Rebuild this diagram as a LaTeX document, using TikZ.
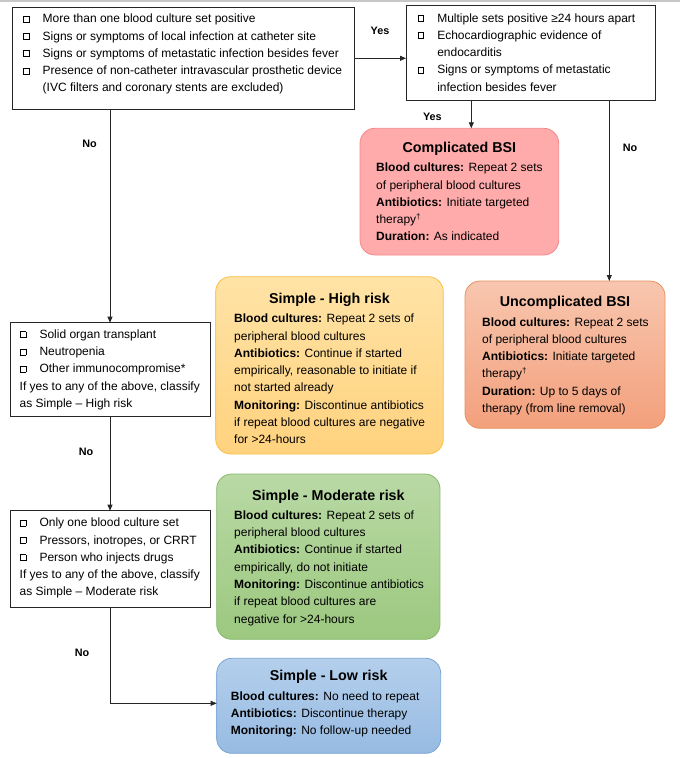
\documentclass[tikz,border=0pt]{standalone}
\usepackage{fontspec}
\setmainfont{Liberation Sans}
\usetikzlibrary{arrows.meta}
\newcommand\cbx{\raisebox{1pt}{\setlength\fboxsep{0pt}\setlength\fboxrule{0.75pt}\fbox{\rule{0pt}{5.2pt}\rule{5.2pt}{0pt}}}}
\newcommand\ck[1]{\makebox[19.8pt][l]{\cbx}#1}
\newcommand\ind[1]{\hspace*{19.8pt}#1}
\newcommand\bodyfont{\fontsize{12}{17.3}\selectfont}
\newcommand\bx[1]{\parbox[t]{420pt}{\raggedright #1}}
\definecolor{compF}{HTML}{FFABAB}
\definecolor{compD}{HTML}{F4878A}
\definecolor{uncT}{HTML}{F8C6AF}
\definecolor{uncB}{HTML}{F3A07C}
\definecolor{uncD}{HTML}{E8915F}
\definecolor{hiT}{HTML}{FFE3A6}
\definecolor{hiB}{HTML}{FFD27E}
\definecolor{hiD}{HTML}{F9C046}
\definecolor{moT}{HTML}{B9D9A5}
\definecolor{moB}{HTML}{9CC87F}
\definecolor{moD}{HTML}{88B86A}
\definecolor{loT}{HTML}{B4CFEC}
\definecolor{loB}{HTML}{97BBE2}
\definecolor{loD}{HTML}{7AA5D6}
\tikzset{
  qbox/.style={draw=black!85, line width=0.8pt, fill=white, inner sep=0pt, outer sep=0pt},
  rbox/.style={line width=0.8pt, rounded corners=15pt, inner sep=0pt, outer sep=0pt},
  ttl/.style={font=\fontsize{14.3}{17}\selectfont\bfseries, inner sep=0pt, anchor=base},
  txt/.style={inner sep=0pt, anchor=base west, font=\bodyfont},
  lbl/.style={font=\fontsize{10.8}{13}\selectfont\bfseries, inner sep=0pt, anchor=base},
  arr/.style={draw=black!85, line width=0.8pt, -{Triangle[length=6pt,width=5pt]}},
  ln/.style={draw=black!85, line width=0.8pt},
}
\begin{document}
\begin{tikzpicture}[x=1pt,y=-1pt]
\useasboundingbox (0,0) rectangle (680,758);
\draw[black!22, line width=1.5pt] (0,0.75) -- (680,0.75);

% question boxes
\node[qbox, minimum width=342pt, minimum height=102pt] (b1) at (183,58.3) {};
\node[qbox, minimum width=249.3pt, minimum height=94.3pt] (b2) at (530.65,52.85) {};
\node[qbox, minimum width=200pt, minimum height=94pt] (b3) at (110,369.7) {};
\node[qbox, minimum width=200pt, minimum height=97pt] (b4) at (110,559.2) {};

\node[txt] (b1t) at (22.7,22.7) {\bx{\ck{More than one blood culture set positive}\\
\ck{Signs or symptoms of local infection at catheter site}\\
\ck{Signs or symptoms of metastatic infection besides fever}\\
\ck{Presence of non-catheter intravascular prosthetic device}\\
\ind{(IVC filters and coronary stents are excluded)}}};

\node[txt] (b2t) at (417.3,22) {\bx{\ck{Multiple sets positive ≥24 hours apart}\\
\ck{Echocardiographic evidence of}\\
\ind{endocarditis}\\
\ck{Signs or symptoms of metastatic}\\
\ind{infection besides fever}}};

\node[txt] (b3t) at (19.5,338.3) {\bx{\ck{Solid organ transplant}\\
\ck{Neutropenia}\\
\ck{Other immunocompromise*}\\
If yes to any of the above, classify\\
as Simple – High risk}};

\node[txt] (b4t) at (19.5,526.7) {\bx{\ck{Only one blood culture set}\\
\ck{Pressors, inotropes, or CRRT}\\
\ck{Person who injects drugs}\\
If yes to any of the above, classify\\
as Simple – Moderate risk}};

% outcome boxes
\node[rbox, draw=compD, fill=compF, minimum width=198.7pt, minimum height=126.7pt] (comp) at (459.35,191.65) {};
\node[rbox, draw=uncD, top color=uncT, bottom color=uncB, minimum width=200pt, minimum height=147.3pt] (unc) at (565,354.65) {};
\node[rbox, draw=hiD, top color=hiT, bottom color=hiB, minimum width=227.6pt, minimum height=177.3pt] (hi) at (329.5,365.35) {};
\node[rbox, draw=moD, top color=moT, bottom color=moB, minimum width=223.3pt, minimum height=165.3pt] (mo) at (328.35,556.65) {};
\node[rbox, draw=loD, top color=loT, bottom color=loB, minimum width=224pt, minimum height=95pt] (lo) at (328.7,705.8) {};

\node[ttl] (compT) at (459.35,152.7) {Complicated BSI};
\node[txt] (compB) at (376,171.7) {\bx{\textbf{Blood cultures:} Repeat 2 sets\\
of peripheral blood cultures\\
\textbf{Antibiotics:} Initiate targeted\\
therapy\textsuperscript{†}\\
\textbf{Duration:} As indicated}};

\node[ttl] (uncT) at (565,306.7) {Uncomplicated BSI};
\node[txt] (uncB) at (482,326) {\bx{\textbf{Blood cultures:} Repeat 2 sets\\
of peripheral blood cultures\\
\textbf{Antibiotics:} Initiate targeted\\
therapy\textsuperscript{†}\\
\textbf{Duration:} Up to 5 days of\\
therapy (from line removal)}};

\node[ttl] (hiT) at (329.5,303.3) {Simple - High risk};
\node[txt] (hiB) at (234,322.7) {\bx{\textbf{Blood cultures:} Repeat 2 sets of\\
peripheral blood cultures\\
\textbf{Antibiotics:} Continue if started\\
empirically, reasonable to initiate if\\
not started already\\
\textbf{Monitoring:} Discontinue antibiotics\\
if repeat blood cultures are negative\\
for >24-hours}};

\node[ttl] (moT) at (328.35,500.7) {Simple - Moderate risk};
\node[txt] (moB) at (234,519.3) {\bx{\textbf{Blood cultures:} Repeat 2 sets of\\
peripheral blood cultures\\
\textbf{Antibiotics:} Continue if started\\
empirically, do not initiate\\
\textbf{Monitoring:} Discontinue antibiotics\\
if repeat blood cultures are\\
negative for >24-hours}};

\node[ttl] (loT) at (328.7,680.7) {Simple - Low risk};
\node[txt] (loB) at (230.7,700) {\bx{\textbf{Blood cultures:} No need to repeat\\
\textbf{Antibiotics:} Discontinue therapy\\
\textbf{Monitoring:} No follow-up needed}};

% connectors
\draw[arr] (b1.east) -- (b1.east -| b2.west);
\draw[arr] ([xshift=65.3pt]b2.south west) -- ([xshift=65.3pt]b2.south west |- comp.north);
\draw[arr] ([xshift=203.3pt]b2.south west) -- ([xshift=203.3pt]b2.south west |- unc.north);
\draw[arr] (b1.south -| b3.north) -- (b3.north);
\draw[arr] (b3.south) -- (b4.north);
\draw[arr] (b4.south) |- ([yshift=2.5pt]lo.west);

% labels
\node[lbl] (yes1) at (380,34) {Yes};
\node[lbl] (yes2) at (432.4,120) {Yes};
\node[lbl] (no1) at (630,151.7) {No};
\node[lbl] (no2) at (89.5,147.5) {No};
\node[lbl] (no3) at (86,455.3) {No};
\node[lbl] (no4) at (82,656) {No};
\end{tikzpicture}
\end{document}
